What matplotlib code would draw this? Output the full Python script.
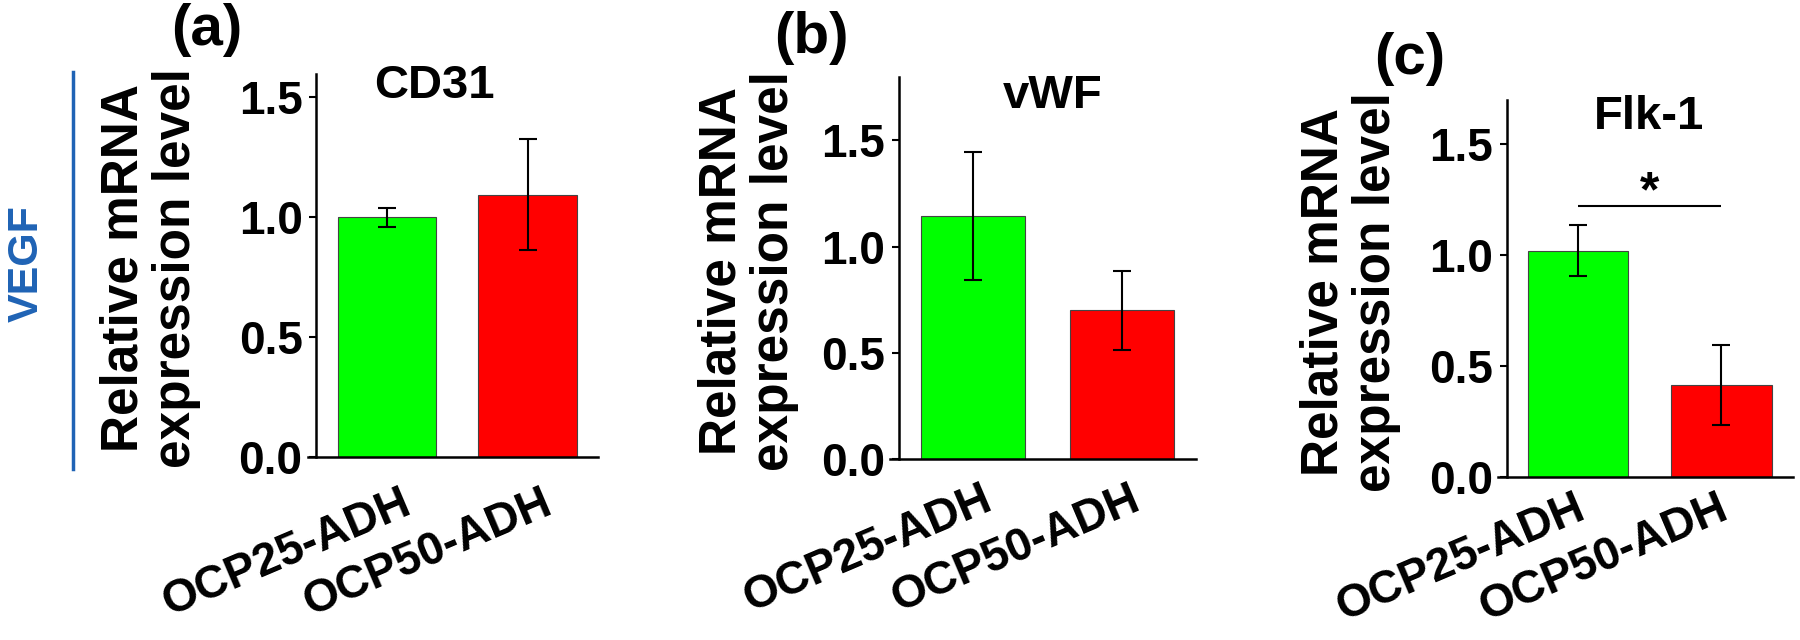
import matplotlib
matplotlib.use('Agg')
import matplotlib.pyplot as plt
import matplotlib.transforms as mtransforms

# ---------------- data ----------------
categories = ['OCP25-ADH', 'OCP50-ADH']
genes = ['CD31', 'vWF', 'Flk-1']
panel_labels = ['(a)', '(b)', '(c)']
cd31_mean = [1.00, 1.095]
cd31_err = [0.04, 0.23]
vwf_mean = [1.145, 0.70]
vwf_err = [0.30, 0.185]
flk1_mean = [1.02, 0.415]
flk1_err = [0.115, 0.18]
y_tops = [1.6, 1.8, 1.7]
y_ticks = [0.0, 0.5, 1.0, 1.5]
sig_line_y = 1.22          # significance bar only in panel (c)
sig_text = '*'
group_label = 'VEGF'
ylabel_text = 'Relative mRNA\nexpression level'
bar_colors = ['#00FF00', '#FF0000']

means = [cd31_mean, vwf_mean, flk1_mean]
errs = [cd31_err, vwf_err, flk1_err]

# ---------------- layout ----------------
W, H = 1800, 640
FONT = 'Liberation Sans'
plt.rcParams['font.family'] = [FONT, 'DejaVu Sans']
plt.rcParams['font.weight'] = 'bold'

fig = plt.figure(figsize=(W / 100, H / 100), dpi=100)

def fx(px):
    return px / W

def fy(py):
    return 1 - py / H

# axes rectangles in pixels: left, top, width, bottom
rects = [(308, 73.5, 290, 457), (890, 76.7, 306, 459), (1498, 100, 295, 477)]
ylab_pos = [(150, 268), (748, 271), (1350, 292)]
title_pos = [(434, 86), (1053, 96), (1649, 117)]
plabel_pos = [(207, 30), (811, 38), (1410, 59)]
xlab_dx = [22, 16, 4]
xlab_dy = [44, 38, 29]

for i in range(3):
    l, t, w, b = rects[i]
    ax = fig.add_axes([fx(l), fy(b), w / W, (b - t) / H])
    x = list(range(len(categories)))
    ax.bar(x, means[i], width=0.7, color=bar_colors, edgecolor='#444444',
           linewidth=0.8, zorder=2)
    ax.errorbar(x, means[i], yerr=errs[i], fmt='none', ecolor='black',
                elinewidth=1.5, capsize=6.5, capthick=1.5, zorder=3)
    ax.set_xlim(-0.56, 1.5)
    ax.set_ylim(0, y_tops[i])
    ax.spines['top'].set_visible(False)
    ax.spines['right'].set_visible(False)
    ax.spines['left'].set_position(('data', -0.5))
    for s in ['left', 'bottom']:
        ax.spines[s].set_linewidth(1.8)
    ax.set_yticks(y_ticks)
    ax.set_yticklabels([f'{v:.1f}' for v in y_ticks], fontsize=33,
                       fontweight='bold')
    ax.tick_params(axis='y', direction='out', length=5, width=1.5, pad=5)
    ax.set_xticks(x)
    ax.set_xticklabels(categories, fontsize=33, fontweight='bold',
                       rotation=23, ha='right', va='center',
                       rotation_mode='anchor')
    ax.tick_params(axis='x', length=0, pad=0)
    off = mtransforms.ScaledTranslation(xlab_dx[i] / 100, -xlab_dy[i] / 100,
                                        fig.dpi_scale_trans)
    for lab in ax.get_xticklabels():
        lab.set_transform(lab.get_transform() + off)

    fig.text(fx(ylab_pos[i][0]), fy(ylab_pos[i][1]), ylabel_text,
             rotation=90, ha='center', va='center', multialignment='center',
             fontsize=37, fontweight='bold', linespacing=1.1)
    fig.text(fx(title_pos[i][0]), fy(title_pos[i][1]), genes[i],
             ha='center', va='center', fontsize=34, fontweight='bold')
    fig.text(fx(plabel_pos[i][0]), fy(plabel_pos[i][1]), panel_labels[i],
             ha='center', va='center', fontsize=42, fontweight='bold')

    if i == 2:
        ax.plot([0, 1], [sig_line_y, sig_line_y], color='black', lw=1.5,
                solid_capstyle='butt', zorder=3)
        ax.text(0.5, sig_line_y + 0.0, sig_text, ha='center', va='baseline',
                fontsize=36, fontweight='bold')

# group label and separator line
fig.text(fx(27), fy(264), group_label, rotation=90, ha='center', va='center',
         fontsize=31, fontweight='bold', color='#1F63B5')
fig.add_artist(plt.Line2D([fx(73), fx(73)], [fy(72), fy(469)],
                          color='#1F63B5', lw=2.5))

fig.savefig('out.png', dpi=100, facecolor='white')
